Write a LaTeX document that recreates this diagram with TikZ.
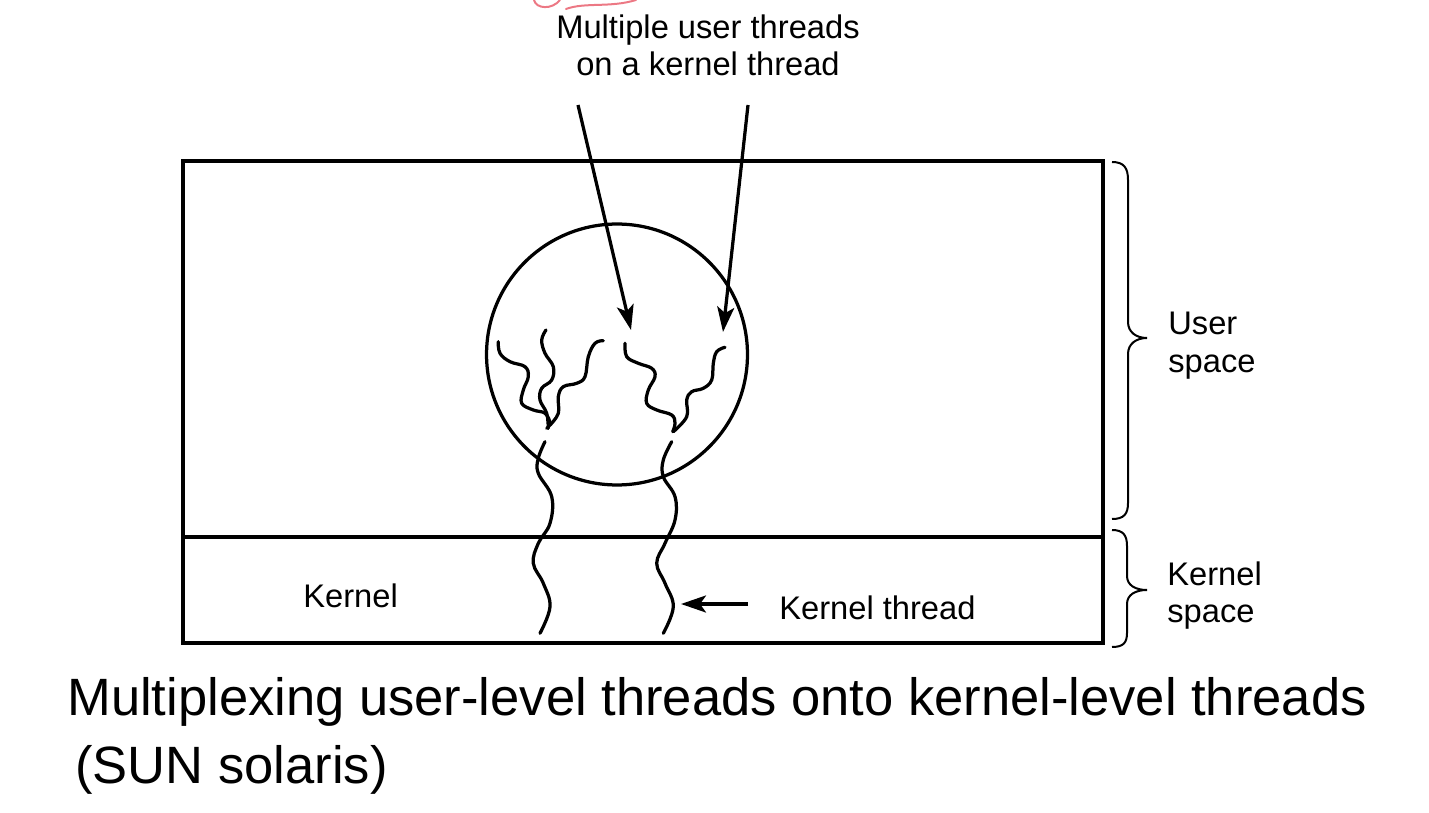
\documentclass[tikz,border=0pt]{standalone}
\usepackage{fontspec}
\setmainfont{Liberation Sans}
\usetikzlibrary{arrows.meta}
\definecolor{scribble}{RGB}{236,120,132}
\tikzset{
  frame/.style={line width=0.065cm},
  thread/.style={line width=0.065cm, line cap=round, smooth, tension=0.65},
  bracepath/.style={line width=0.04cm},
  pointer/.style={line width=0.065cm, -{Stealth[length=0.5cm, width=0.34cm, inset=0.12cm]}},
  lbl/.style={inner sep=0pt, font=\fontsize{18.6}{21.5}\selectfont},
  captiontext/.style={inner sep=0pt, font=\fontsize{29.9}{36}\selectfont},
}
\begin{document}
\begin{tikzpicture}[x=0.02cm,y=-0.02cm]
\useasboundingbox (0,0) rectangle (1429,813);
% pink scribble
\draw[scribble, line width=0.04cm, line cap=round] (534,0) .. controls (536,9) and (552,10) .. (560,0);
\draw[scribble, line width=0.04cm, line cap=round] (566,9) .. controls (585,2) and (610,8) .. (636,0);
% frame
\coordinate (boxtl) at (183,161);
\coordinate (boxbr) at (1103,643);
\draw[frame] (boxtl) rectangle (boxbr);
\coordinate (divl) at (183,537);
\coordinate (divr) at (1103,537);
\draw[frame] (divl) -- (divr);
% process circle
\node[draw, circle, frame, minimum size=5.22cm, inner sep=0pt] (proc) at (617,354.5) {};
% top label and arrows
\node[lbl, anchor=north, align=center] (toplabel) at (708,14) {Multiple user threads\\on a kernel thread};
\coordinate (p1s) at (578,105);
\coordinate (p1e) at (631,330);
\coordinate (p2s) at (748,105);
\coordinate (p2e) at (723,332);
\draw[pointer] (p1s) -- (p1e);
\draw[pointer] (p2s) -- (p2e);
% user threads
\draw[thread] plot coordinates {(498.3,341.7) (500,353.3) (510,361.7) (525,366.7) (528.3,376.7) (523.3,390) (521.7,403.3) (533.3,410) (545,413.3) (550,423.3) (546.7,428.3)};
\draw[thread] plot coordinates {(546,330) (541.7,340) (545,353.3) (553.3,366.7) (551.7,380) (541.7,388.3) (540,400) (546.7,413.3) (548.3,428.3)};
\draw[thread] plot coordinates {(603.3,340.7) (595,343.3) (588.3,356.7) (585,376.7) (576.7,383.3) (563.3,386.7) (558.3,396.7) (558.3,413.3) (550,425)};
\draw[thread] plot coordinates {(625,343.3) (626.7,356.7) (638.3,363.3) (651.7,368.3) (655,376.7) (648.3,390) (646.7,403.3) (656.7,410) (671.7,415) (675,423.3) (672.7,431.7)};
\draw[thread] plot coordinates {(725,347.3) (716.7,351.7) (713.3,363.3) (711.7,380) (703.3,388.3) (691.7,391.7) (686.7,400) (686.7,416.7) (673.3,431.7)};
% kernel threads
\draw[thread] plot coordinates {(545,441.7) (538.3,458.3) (538.3,473.3) (551.7,496.7) (550,523.3) (538.3,543.3) (533.3,563.3) (543.3,583.3) (550,606.7) (540,633.3)};
\draw[thread] plot coordinates {(671.7,441.7) (663.3,460) (663.3,476.7) (675,496.7) (675,520) (665,543.3) (656.7,563.3) (665,583.3) (673.3,606.7) (663.3,633.3)};
% kernel labels
\node[lbl, anchor=base west] (kernel) at (303,607) {Kernel};
\node[lbl, anchor=base west] (kthread) at (779,619) {Kernel thread};
\coordinate (kts) at (748,604);
\coordinate (kte) at (681,604);
\draw[pointer] (kts) -- (kte);
% braces
\draw[bracepath] (1112,162) .. controls (1124,162) and (1128,168) .. (1128,180) -- (1128,322) .. controls (1128,332) and (1136,338) .. (1147,338) .. controls (1136,338) and (1128,344) .. (1128,354) -- (1128,503) .. controls (1128,514) and (1124,519) .. (1112,519);
\draw[bracepath] (1112,530) .. controls (1123,530) and (1127,535) .. (1127,546) -- (1127,576) .. controls (1127,585) and (1135,590) .. (1147,590) .. controls (1135,590) and (1127,595) .. (1127,604) -- (1127,633) .. controls (1127,643) and (1123,647) .. (1112,647);
\node[lbl, anchor=north west, align=left] (userspace) at (1168,312) {User\\space};
\node[lbl, anchor=north west, align=left] (kernelspace) at (1167,561) {Kernel\\space};
% caption
\node[captiontext, anchor=base west] (cap1) at (67,715) {Multiplexing user-level threads onto kernel-level threads};
\node[captiontext, anchor=base west] (cap2) at (75,783) {(SUN solaris)};
\end{tikzpicture}
\end{document}
